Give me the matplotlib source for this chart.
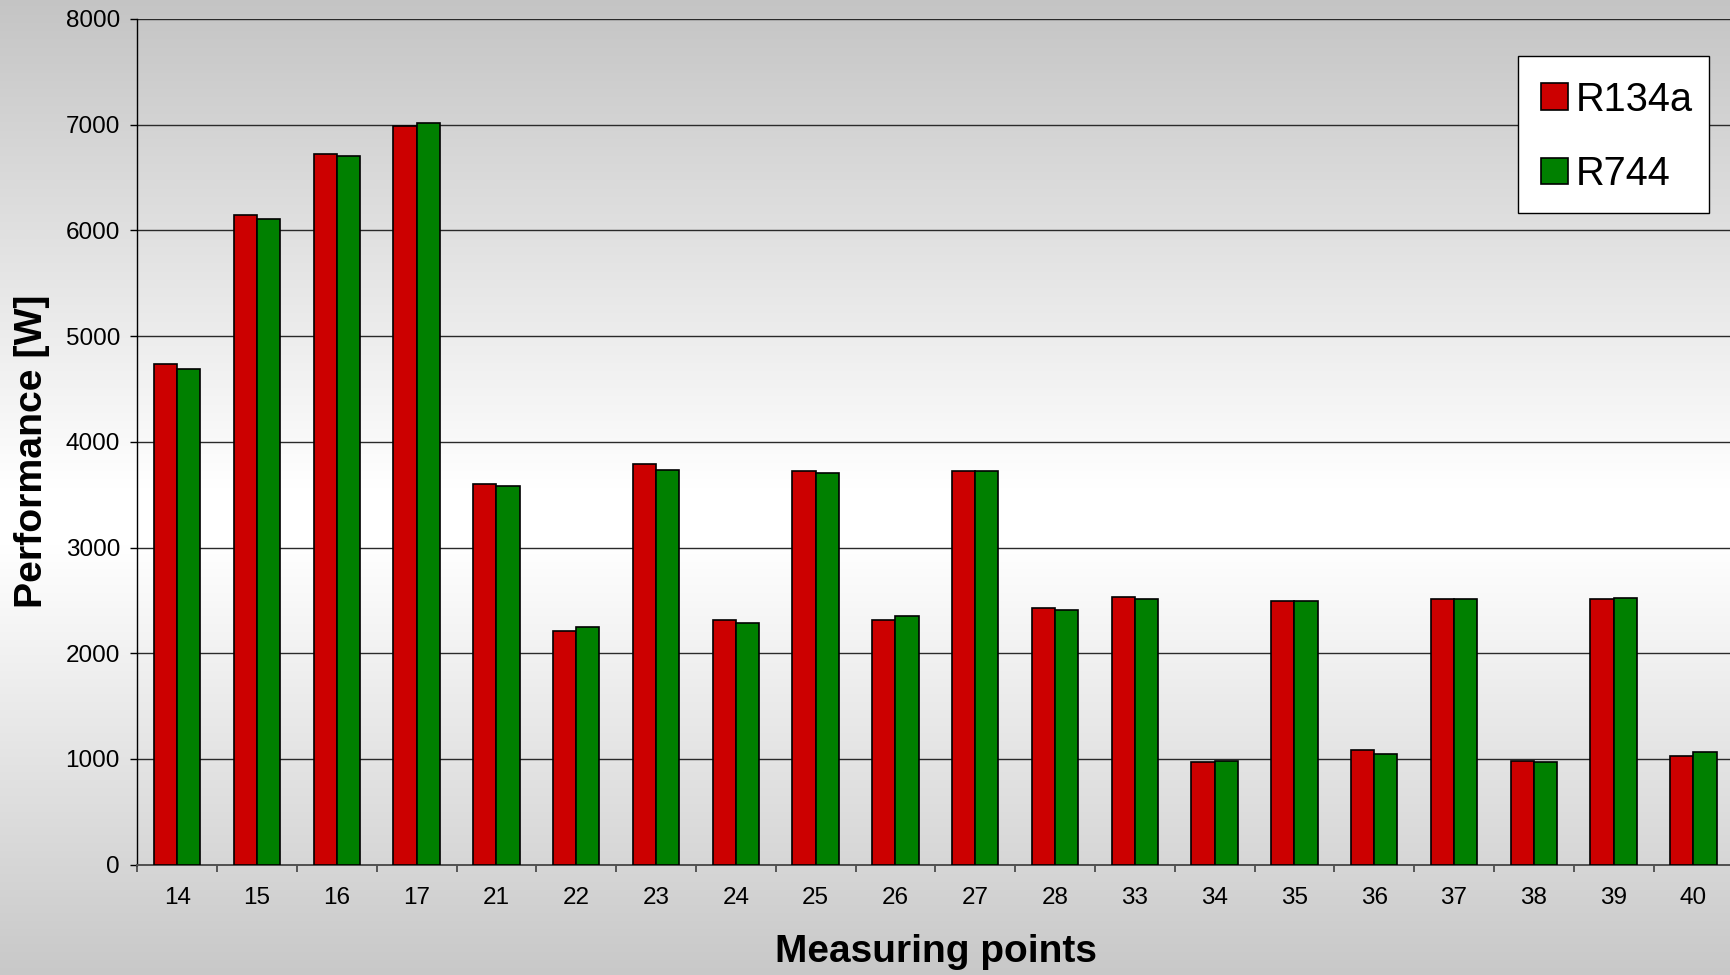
import numpy as np
import matplotlib
matplotlib.use("Agg")
import matplotlib.pyplot as plt
from matplotlib.patches import Patch, Rectangle

plt.rcParams["font.family"] = ["Liberation Sans", "DejaVu Sans"]

# Measuring points and measured performance per refrigerant (W)
points = ["14", "15", "16", "17", "21", "22", "23", "24", "25", "26",
          "27", "28", "33", "34", "35", "36", "37", "38", "39", "40"]
r134a = [4740, 6145, 6725, 6990, 3600, 2210, 3795, 2318, 3722, 2318,
         3722, 2425, 2530, 975, 2490, 1086, 2510, 980, 2510, 1032]
r744 = [4686, 6110, 6705, 7020, 3580, 2248, 3738, 2283, 3703, 2349,
        3722, 2405, 2512, 985, 2490, 1051, 2510, 967, 2525, 1067]
series_names = ["R134a", "R744"]
series_colors = ["#cc0000", "#008000"]
y_ticks = [0, 1000, 2000, 3000, 4000, 5000, 6000, 7000, 8000]

W, H = 1731, 975
fig = plt.figure(figsize=(W / 100, H / 100), dpi=100)

# Vertical grey-white-grey background gradient
bg = fig.add_axes([0, 0, 1, 1], zorder=-10)
ys = np.linspace(0, 1, 600)
stops_y = [0.0, 0.50, 0.56, 1.0]
stops_v = [0.77, 1.0, 1.0, 0.785]
vals = np.interp(ys, stops_y, stops_v)
grad = np.repeat(vals[:, None], 4, axis=1)
bg.imshow(np.dstack([grad, grad, grad]), aspect="auto", extent=[0, 1, 1, 0],
          interpolation="bilinear")
bg.set_xlim(0, 1)
bg.set_ylim(1, 0)
bg.axis("off")

left_px, right_px = 137.3, 1733.3
top_px, zero_px = 19.0, 864.7
ax = fig.add_axes([left_px / W, (H - zero_px) / H,
                   (right_px - left_px) / W, (zero_px - top_px) / H])
ax.set_facecolor("none")

x = np.arange(len(points))
bw = 0.29
ax.bar(x - bw / 2, r134a, bw, color=series_colors[0], edgecolor="black",
       linewidth=1.2, zorder=3)
ax.bar(x + bw / 2, r744, bw, color=series_colors[1], edgecolor="black",
       linewidth=1.2, zorder=3)

ax.set_xlim(-0.5, len(points) - 0.5)
ax.set_ylim(0, 8000)
ax.set_yticks(y_ticks)
ax.set_yticklabels([str(v) for v in y_ticks])
ax.yaxis.grid(True, color="#2a2a2a", linewidth=1.0, zorder=1)
ax.set_axisbelow(True)

ax.set_xticks(x)
ax.set_xticklabels(points)
ax.set_xticks(np.arange(-0.5, len(points)), minor=True)
ax.tick_params(axis="x", which="major", length=0, pad=16, labelsize=17.5)
ax.tick_params(axis="x", which="minor", length=5, width=1.2, color="#404040",
               direction="out")
ax.tick_params(axis="y", which="major", length=5, width=1.0, pad=7.5,
               labelsize=17.5, direction="out")

for side in ("top", "right"):
    ax.spines[side].set_visible(False)
ax.spines["left"].set_color("black")
ax.spines["left"].set_linewidth(1.0)
ax.spines["bottom"].set_color("#505050")
ax.spines["bottom"].set_linewidth(1.4)

fig.text(936 / W, 1 - 952 / H, "Measuring points", fontsize=28,
         fontweight="bold", ha="center", va="center")
fig.text(32.5 / W, 1 - 451.5 / H, "Performance [W]", fontsize=28.3,
         fontweight="bold", ha="center", va="center", rotation=90)

# Legend box (white panel with thin black border) and its entries
box = Rectangle((1518 / W, 1 - 213 / H), (1709 - 1518) / W, (213 - 56) / H,
                transform=fig.transFigure, facecolor="white",
                edgecolor="black", linewidth=1.0, zorder=4)
fig.patches.append(box)

handles = [Patch(facecolor=c, edgecolor="black", linewidth=1.2)
           for c in series_colors]
leg = fig.legend(handles, series_names, loc="upper left",
                 bbox_to_anchor=(1541 / W, 1 - 80.5 / H), borderaxespad=0,
                 fontsize=28.6, handlelength=0.68, handleheight=0.66,
                 handletextpad=0.2, labelspacing=0.915, borderpad=0,
                 frameon=False)
leg.set_zorder(5)

fig.savefig("out.png", dpi=100)
